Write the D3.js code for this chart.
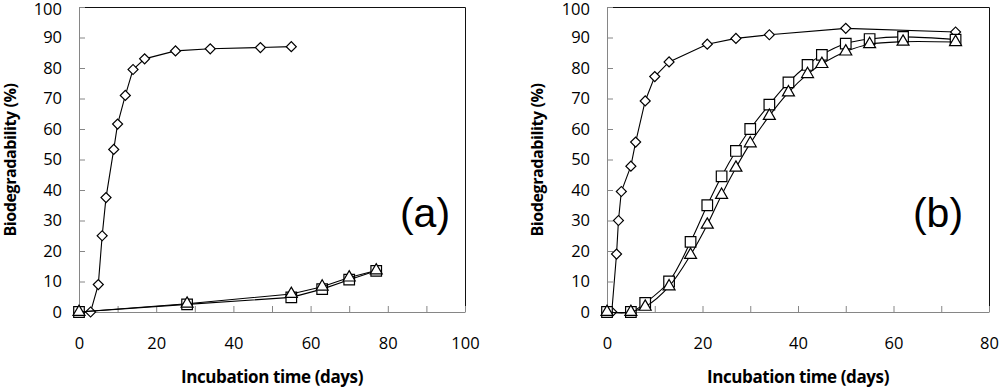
<!DOCTYPE html>
<html>
<head>
<meta charset="utf-8">
<script src="https://cdn.jsdelivr.net/npm/d3@7"></script>
<style>
  body { margin: 0; background: #fff; }
  svg { display: block; font-family: "Open Sans", sans-serif; }
</style>
</head>
<body>
<div id="chart"></div>
<script>
// panel (a)
const daysA_diamond = [0, 3, 5, 6, 7, 9, 10, 12, 14, 17, 25, 34, 47, 55];
const bioA_diamond = [0, 0, 9, 25, 37.5, 53.3, 61.6, 71, 79.5, 83, 85.6, 86.3, 86.7, 87];
const daysA_other = [0, 28, 55, 63, 70, 77];
const bioA_square = [0, 2.5, 4.8, 7.5, 10.6, 13.5];
const bioA_triangle = [0, 2.7, 5.9, 8.3, 11.3, 13.6];

// panel (b)
const daysB_diamond = [0, 1, 2, 2.4, 3, 5, 6, 8, 10, 13, 21, 27, 34, 50, 73];
const bioB_diamond = [0, 0, 19, 30, 39.5, 47.8, 55.7, 69.2, 77.2, 82, 87.8, 89.7, 90.9, 93, 91.8];
const daysB_other = [0, 5, 8, 13, 17.5, 21, 24, 27, 30, 34, 38, 42, 45, 50, 55, 62, 73];
const bioB_square = [0, 0, 3, 10, 23, 35, 44.5, 52.8, 60, 68, 75.3, 81, 84.3, 88, 89.5, 90.2, 89.3];
const bioB_triangle = [0, 0, 1.7, 8.4, 18.7, 28.6, 38.4, 47.3, 55.3, 64.3, 72, 78, 81.3, 85.4, 87.8, 88.6, 88.5];

// axis labels
const yLabels = [0, 10, 20, 30, 40, 50, 60, 70, 80, 90, 100];
const xLabelsA = [0, 20, 40, 60, 80, 100];
const xLabelsB = [0, 20, 40, 60, 80];

const width = 1000, height = 389;
const top_ = 7, bottom = 312;
const axisGrey = "#868686";

const svg = d3.select("#chart")
    .append("svg")
    .attr("width", width)
    .attr("height", height);

function zip(xs, ys) {
    return xs.map((d, i) => ({ x: d, y: ys[i] }));
}

function drawPanel(p) {
    let x = d3.scaleLinear()
        .domain([0, d3.max(p.xLabels)])
        .range([p.left, p.right]);

    let y = d3.scaleLinear()
        .domain([0, d3.max(yLabels)])
        .range([bottom, top_]);

    let g = svg.append("g");

    // top and right border
    g.append("path")
        .attr("d", `M${p.left},${top_ + 0.5}H${p.right + 0.5}V${bottom}`)
        .attr("fill", "none")
        .attr("stroke", "#111")
        .attr("stroke-width", 1);

    let yAxis = g.append("g")
        .attr("transform", `translate(${p.left},0)`)
        .call(d3.axisLeft(y)
            .tickValues(yLabels)
            .tickSize(-6)
            .tickPadding(17)
            .tickSizeOuter(0));

    let xTicks = d3.range(0, d3.max(p.xLabels) + 1, 10);
    let xAxis = g.append("g")
        .attr("transform", `translate(0,${bottom})`)
        .call(d3.axisBottom(x)
            .tickValues(xTicks)
            .tickFormat(d => p.xLabels.includes(d) ? d : "")
            .tickSize(-6)
            .tickPadding(25)
            .tickSizeOuter(0));

    for (let ax of [xAxis, yAxis]) {
        ax.select(".domain").attr("stroke", axisGrey);
        ax.selectAll(".tick line").attr("stroke", axisGrey);
        ax.selectAll(".tick text")
            .attr("fill", "#000")
            .attr("font-size", 16.5)
            .attr("font-family", "'Open Sans', sans-serif");
    }
    // keep the top label inside the picture
    yAxis.selectAll(".tick text").filter(d => d === 100).attr("dy", "0.47em");

    // axis titles
    g.append("text")
        .attr("x", (p.left + p.right) / 2)
        .attr("y", 383)
        .attr("text-anchor", "middle")
        .attr("font-weight", "bold")
        .attr("font-size", 17)
        .attr("font-family", "'Open Sans', sans-serif")
        .attr("letter-spacing", -0.4)
        .text("Incubation time (days)");

    g.append("text")
        .attr("transform", `translate(${p.titleX},160) rotate(-90)`)
        .attr("text-anchor", "middle")
        .attr("font-weight", "bold")
        .attr("font-size", 16)
        .attr("font-family", "'Open Sans', sans-serif")
        .attr("letter-spacing", -0.4)
        .text("Biodegradability (%)");

    // panel letter
    g.append("text")
        .attr("x", p.letterX)
        .attr("y", 227)
        .attr("text-anchor", "middle")
        .attr("font-size", 41)
        .attr("font-family", "'Liberation Sans', Arial, sans-serif")
        .text(p.letter);

    // series
    for (let s of p.series) {
        let line = d3.line()
            .x(d => x(d.x))
            .y(d => y(d.y))
            .curve(s.curve);

        g.append("path")
            .datum(s.data)
            .attr("d", line)
            .attr("fill", "none")
            .attr("stroke", "#000")
            .attr("stroke-width", 1.1);

        let sym = d3.symbol().type(s.symbol).size(s.size);
        g.selectAll(null)
            .data(s.data)
            .join("path")
            .attr("d", sym)
            .attr("transform", d => `translate(${x(d.x)},${y(d.y)}) rotate(${s.rotate})`)
            .attr("fill", "#fff")
            .attr("stroke", "#000")
            .attr("stroke-width", 1.2);
    }
}

const diamond = { symbol: d3.symbolSquare, size: 50, rotate: 45 };
const square = { symbol: d3.symbolSquare, size: 112, rotate: 0 };
const triangle = { symbol: d3.symbolTriangle, size: 62, rotate: 0 };

drawPanel({
    left: 79, right: 465, xLabels: xLabelsA,
    titleX: 16, letter: "(a)", letterX: 425,
    series: [
        { ...diamond, data: zip(daysA_diamond, bioA_diamond), curve: d3.curveLinear },
        { ...square, data: zip(daysA_other, bioA_square), curve: d3.curveLinear },
        { ...triangle, data: zip(daysA_other, bioA_triangle), curve: d3.curveLinear }
    ]
});

drawPanel({
    left: 607, right: 989, xLabels: xLabelsB,
    titleX: 543, letter: "(b)", letterX: 938,
    series: [
        { ...diamond, data: zip(daysB_diamond, bioB_diamond), curve: d3.curveLinear },
        { ...square, data: zip(daysB_other, bioB_square), curve: d3.curveCatmullRom },
        { ...triangle, data: zip(daysB_other, bioB_triangle), curve: d3.curveCatmullRom }
    ]
});
</script>
</body>
</html>
